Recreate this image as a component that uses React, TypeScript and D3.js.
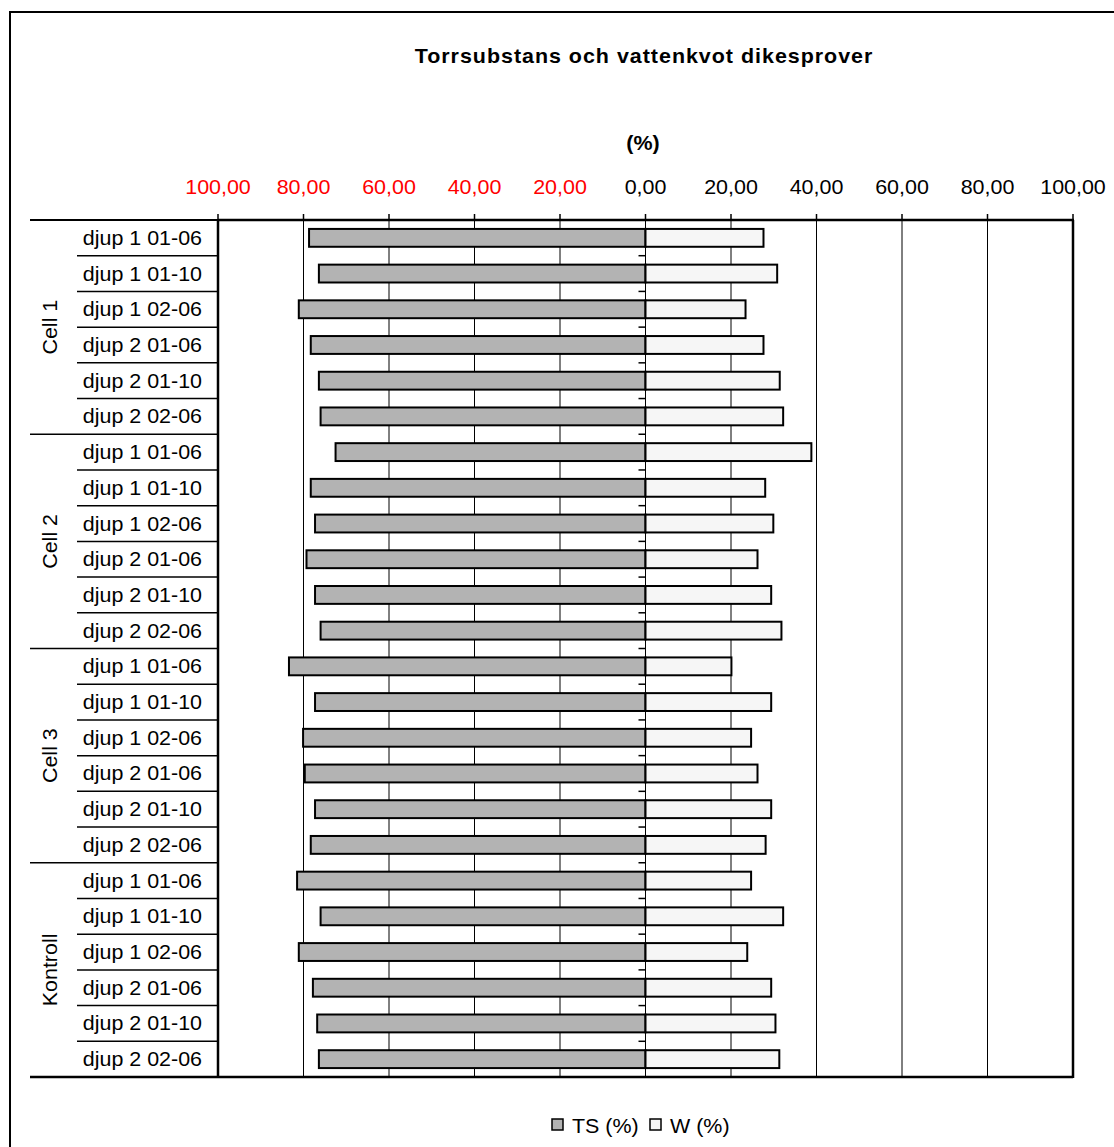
import { useEffect, useRef } from "react";
import * as d3 from "d3";

const groups = ["Cell 1", "Cell 2", "Cell 3", "Kontroll"];
const samples = ["djup 1 01-06", "djup 1 01-10", "djup 1 02-06", "djup 2 01-06", "djup 2 01-10", "djup 2 02-06"];

// TS (%) drawn to the left, W (%) to the right
const tsValues = [
  78.7, 76.4, 81.1, 78.3, 76.4, 76.0,
  72.5, 78.3, 77.3, 79.3, 77.3, 76.0,
  83.4, 77.3, 80.1, 79.7, 77.3, 78.3,
  81.5, 76.0, 81.1, 77.8, 76.8, 76.4,
];
const wValues = [
  27.6, 30.8, 23.4, 27.6, 31.4, 32.2,
  38.8, 28.0, 29.9, 26.2, 29.4, 31.8,
  20.1, 29.4, 24.7, 26.2, 29.4, 28.1,
  24.7, 32.2, 23.8, 29.4, 30.4, 31.3,
];
const tickValues = [-100, -80, -60, -40, -20, 0, 20, 40, 60, 80, 100];

const W = 1114;
const H = 1147;
const SX = 1.1; // text is drawn a bit wider than the font
const FONT = "'Liberation Sans', Arial, sans-serif";

export default function App() {
  const ref = useRef<SVGSVGElement>(null);

  useEffect(() => {
    if (!ref.current) return;
    const svg = d3.select(ref.current);
    svg.selectAll("*").remove();

    const rows = groups.flatMap((g) => samples.map((s) => ({ group: g, sample: s })));
    const data = rows.map((r, i) => ({ ...r, i, ts: tsValues[i], w: wValues[i] }));

    const left = 218, right = 1073, top = 220, bottom = 1077;
    const x = d3.scaleLinear().domain([-100, 100]).range([left, right]);
    const y = d3
      .scaleBand<number>()
      .domain(d3.range(data.length))
      .range([top, bottom])
      .paddingInner(0.5)
      .paddingOuter(0.25);
    const step = y.step();
    const rowTop = (i: number) => top + i * step;

    const text = (
      g: d3.Selection<any, any, any, any>,
      tx: number,
      ty: number,
      str: string,
      opts: { size?: number; anchor?: string; weight?: string; fill?: string; rotate?: number; spacing?: number } = {},
    ) =>
      g
        .append("text")
        .attr("transform", `translate(${tx},${ty})${opts.rotate ? ` rotate(${opts.rotate})` : ""} scale(${SX},1)`)
        .attr("font-family", FONT)
        .attr("font-size", opts.size ?? 19.5)
        .attr("font-weight", opts.weight ?? "normal")
        .attr("letter-spacing", opts.spacing ?? 0)
        .attr("text-anchor", opts.anchor ?? "start")
        .attr("fill", opts.fill ?? "#000")
        .text(str);

    svg.append("rect").attr("width", W).attr("height", H).attr("fill", "#fff");
    // outer chart border
    svg
      .append("rect")
      .attr("x", 10).attr("y", 12).attr("width", W + 20).attr("height", H + 20)
      .attr("fill", "none").attr("stroke", "#000").attr("stroke-width", 2);

    text(svg, 644, 63, "Torrsubstans och vattenkvot dikesprover", { size: 19.5, anchor: "middle", weight: "bold", spacing: 0.9 });
    text(svg, 643, 150, "(%)", { size: 19.5, anchor: "middle", weight: "bold" });

    // gridlines
    svg
      .append("g")
      .selectAll("line")
      .data(tickValues.slice(1, -1))
      .join("line")
      .attr("x1", (d) => x(d)).attr("x2", (d) => x(d))
      .attr("y1", top).attr("y2", bottom)
      .attr("stroke", "#000").attr("stroke-width", 1);

    // bars
    const bars = svg.append("g");
    bars
      .selectAll("rect.ts")
      .data(data)
      .join("rect")
      .attr("class", "ts")
      .attr("x", (d) => x(-d.ts))
      .attr("width", (d) => x(0) - x(-d.ts))
      .attr("y", (d) => y(d.i)!)
      .attr("height", y.bandwidth())
      .attr("fill", "#b3b3b3")
      .attr("stroke", "#000")
      .attr("stroke-width", 2);
    bars
      .selectAll("rect.w")
      .data(data)
      .join("rect")
      .attr("class", "w")
      .attr("x", x(0))
      .attr("width", (d) => x(d.w) - x(0))
      .attr("y", (d) => y(d.i)!)
      .attr("height", y.bandwidth())
      .attr("fill", "#f6f6f6")
      .attr("stroke", "#000")
      .attr("stroke-width", 2);

    // minor ticks on the zero axis between categories
    svg
      .append("g")
      .selectAll("line")
      .data(d3.range(1, data.length))
      .join("line")
      .attr("x1", x(0) - 7).attr("x2", x(0))
      .attr("y1", (i) => rowTop(i)).attr("y2", (i) => rowTop(i))
      .attr("stroke", "#000").attr("stroke-width", 1.5);

    // category separators at left
    svg
      .append("g")
      .selectAll("line")
      .data(d3.range(0, data.length + 1))
      .join("line")
      .attr("x1", (i) => (i % samples.length === 0 ? 30 : 77))
      .attr("x2", (i) => (i === data.length ? right : left))
      .attr("y1", (i) => rowTop(i)).attr("y2", (i) => rowTop(i))
      .attr("stroke", "#000")
      .attr("stroke-width", (i) => (i === 0 ? 2 : i === data.length ? 2.5 : 1.5));

    // plot frame
    const frame = svg.append("g").attr("stroke", "#000").attr("stroke-width", 2.5);
    frame.append("line").attr("x1", left).attr("x2", right + 1).attr("y1", top).attr("y2", top);
    frame.append("line").attr("x1", left).attr("x2", left).attr("y1", top).attr("y2", bottom);
    frame.append("line").attr("x1", right).attr("x2", right).attr("y1", top).attr("y2", bottom + 1);

    // top value ticks and labels
    svg
      .append("g")
      .selectAll("line")
      .data(tickValues)
      .join("line")
      .attr("x1", (d) => x(d)).attr("x2", (d) => x(d))
      .attr("y1", top - 6).attr("y2", top)
      .attr("stroke", "#000").attr("stroke-width", 1.5);
    const fmt = (v: number) => Math.abs(v).toFixed(2).replace(".", ",");
    const tickG = svg.append("g");
    tickValues.forEach((v) =>
      text(tickG, x(v), 194, fmt(v), { anchor: "middle", fill: v < 0 ? "#ff0000" : "#000" }),
    );

    // category labels
    const catG = svg.append("g");
    data.forEach((d) => text(catG, 202, y(d.i)! + y.bandwidth() / 2 + 7, d.sample, { anchor: "end" }));
    groups.forEach((g, gi) => {
      const cy = rowTop(gi * samples.length + samples.length / 2);
      text(catG, 57, cy, g, { anchor: "middle", rotate: -90 });
    });

    // legend
    const leg = svg.append("g");
    leg.append("rect").attr("x", 552).attr("y", 1119).attr("width", 11).attr("height", 11)
      .attr("fill", "#b3b3b3").attr("stroke", "#000").attr("stroke-width", 1.5);
    text(leg, 572, 1133, "TS (%)");
    leg.append("rect").attr("x", 650).attr("y", 1119).attr("width", 11).attr("height", 11)
      .attr("fill", "#f6f6f6").attr("stroke", "#000").attr("stroke-width", 1.5);
    text(leg, 670, 1133, "W (%)");
  }, []);

  return (
    <svg
      ref={ref}
      width={W}
      height={H}
      style={{ position: "absolute", left: 0, top: 0, display: "block" }}
    />
  );
}
